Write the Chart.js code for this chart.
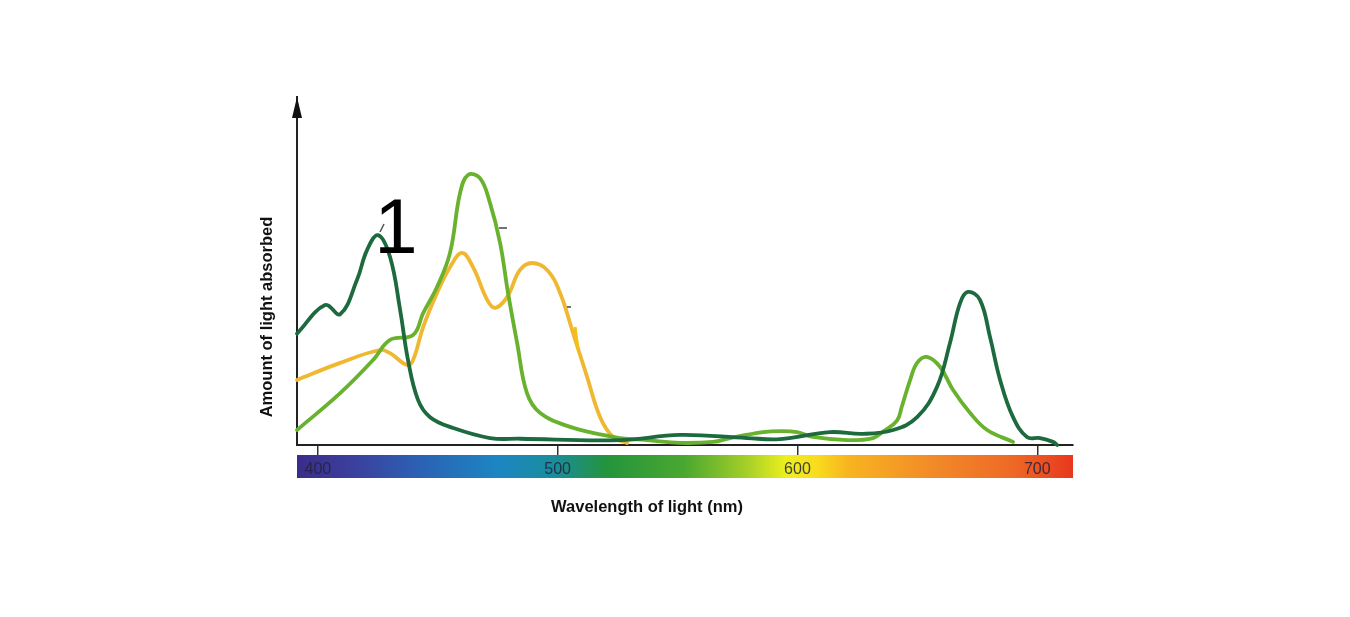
<!DOCTYPE html>
<html>
<head>
<meta charset="utf-8">
<title>Absorption spectra</title>
<script src="https://cdn.jsdelivr.net/npm/chart.js@4"></script>
<style>
  html, body { margin: 0; padding: 0; background: #fff; }
  canvas { display: block; }
</style>
</head>
<body>
<canvas id="spectrumChart" width="1350" height="617"></canvas>
<script>
// Wavelength (nm) and relative absorption (0-100).
var darkWl  = [391.3, 403.0, 409.3, 416.3, 420.5, 425.1, 430.1, 434.3, 437.6, 441.8, 446.8, 456.0, 471.8, 484.3,
               526.0, 551.0, 579.0, 592.7, 613.6, 627.4, 639.9, 649.9, 658.2, 663.6, 667.8, 671.1,
               676.1, 680.3, 684.5, 689.9, 695.7, 701.2, 706.5, 708.3];
var darkAbs = [32.0, 40.2, 37.6, 47.4, 56.0, 60.3, 54.0, 38.8, 24.4, 12.9, 8.0, 5.0, 2.0, 1.8,
               1.4, 2.9, 2.0, 1.7, 3.7, 3.2, 4.3, 8.0, 16.7, 29.3, 40.8, 44.0,
               41.7, 31.0, 18.7, 8.0, 2.3, 2.0, 0.9, 0.0];

var lightWl  = [391.3, 409.3, 423.0, 430.1, 439.7, 443.9, 449.7, 455.1, 459.3, 462.6, 467.6, 471.8, 476.0,
                479.3, 483.1, 487.2, 492.7, 505.2, 518.9, 526.0, 537.3, 551.0, 564.8, 571.9, 585.7,
                592.7, 599.8, 606.5, 620.7, 631.5, 636.0, 641.5, 643.5, 647.0, 649.9, 654.0, 659.5,
                664.9, 672.0, 679.1, 689.9];
var lightAbs = [4.3, 14.9, 24.4, 30.2, 31.6, 37.9, 45.4, 55.2, 72.4, 77.6, 76.7, 69.5, 58.0,
                43.7, 29.3, 14.9, 9.2, 5.2, 2.9, 2.0, 1.4, 0.6, 0.9, 2.0, 3.7,
                4.0, 3.7, 2.3, 1.4, 2.0, 4.0, 7.0, 11.0, 18.7, 23.6, 25.3, 22.4,
                15.8, 9.2, 4.3, 0.9];

var yellowWl  = [391.3, 409.3, 425.9, 430.1, 437.2, 439.7, 443.9, 449.7, 455.1, 460.1, 464.7, 470.6,
                 473.9, 478.9, 484.3, 489.3, 495.6, 501.0, 506.4, 512.3, 517.7, 523.1, 528.9];
var yellowAbs = [18.7, 23.6, 27.3, 26.4, 23.0, 24.4, 33.9, 43.7, 51.1, 55.2, 51.1, 41.7,
                 39.4, 42.5, 50.3, 52.3, 50.3, 43.7, 32.2, 19.5, 8.0, 2.3, 0.6];

var tickValues = [400, 500, 600, 700];
var xTitle = 'Wavelength of light (nm)';
var yTitle = 'Amount of light absorbed';
var markLabel = '1';

var FONT = '"Liberation Sans", Arial, sans-serif';

function toPoints(xs, ys) {
    return xs.map(function(x, i) { return { x: x, y: ys[i] }; });
}

// Extra drawing: spectrum band under the axis, arrow, titles and the "1" label.
var decorPlugin = {
    id: 'decor',
    beforeDraw: function(chart) {
        var ctx = chart.ctx;
        var x = chart.scales.x;
        var top = chart.chartArea.bottom + 10;
        var h = 23;
        var g = ctx.createLinearGradient(x.left, 0, x.right, 0);
        g.addColorStop(0.00, '#3a2c8a');
        g.addColorStop(0.07, '#3b3f9c');
        g.addColorStop(0.16, '#2b62b4');
        g.addColorStop(0.26, '#1c86c2');
        g.addColorStop(0.33, '#198d9c');
        g.addColorStop(0.40, '#24943c');
        g.addColorStop(0.50, '#4aa830');
        g.addColorStop(0.58, '#a6cf28');
        g.addColorStop(0.63, '#ecef1e');
        g.addColorStop(0.67, '#f8dc1e');
        g.addColorStop(0.71, '#f8b420');
        g.addColorStop(0.82, '#f28a28');
        g.addColorStop(0.92, '#ee6a26');
        g.addColorStop(1.00, '#e8381e');
        ctx.save();
        ctx.fillStyle = g;
        ctx.fillRect(x.left, top, x.right - x.left, h);
        ctx.restore();
    },
    afterDraw: function(chart) {
        var ctx = chart.ctx;
        var area = chart.chartArea;
        var xs = chart.scales.x;
        ctx.save();

        // tick labels sit inside the spectrum band
        ctx.fillStyle = 'rgba(35,35,60,0.85)';
        ctx.font = '16px ' + FONT;
        ctx.textAlign = 'center';
        ctx.textBaseline = 'middle';
        tickValues.forEach(function(v) {
            ctx.fillText(String(v), xs.getPixelForValue(v), area.bottom + 25);
        });

        // arrow head on the y axis
        ctx.fillStyle = '#111';
        ctx.beginPath();
        ctx.moveTo(area.left, area.top);
        ctx.lineTo(area.left - 5, area.top + 21);
        ctx.lineTo(area.left + 5, area.top + 21);
        ctx.closePath();
        ctx.fill();

        // axis titles
        ctx.fillStyle = '#111';
        ctx.font = 'bold 16.5px ' + FONT;
        ctx.textAlign = 'center';
        ctx.textBaseline = 'middle';
        ctx.fillText(xTitle, 647, 507);
        ctx.translate(267, 317);
        ctx.rotate(-Math.PI / 2);
        ctx.fillText(yTitle, 0, 0);
        ctx.setTransform(1, 0, 0, 1, 0, 0);

        // big "1" label with its leader line
        ctx.fillStyle = '#000';
        ctx.font = '78px ' + FONT;
        ctx.textAlign = 'center';
        ctx.textBaseline = 'alphabetic';
        ctx.fillText(markLabel, 396, 253);
        ctx.strokeStyle = '#555';
        ctx.lineWidth = 1.5;
        ctx.beginPath();
        ctx.moveTo(380, 232);
        ctx.lineTo(384, 224);
        ctx.stroke();

        // leftover leader stubs
        ctx.strokeStyle = '#444';
        ctx.lineWidth = 1.5;
        ctx.beginPath();
        ctx.moveTo(499, 228);
        ctx.lineTo(507, 228);
        ctx.moveTo(567, 307);
        ctx.lineTo(571, 307);
        ctx.stroke();
        ctx.strokeStyle = '#f5c016';
        ctx.lineWidth = 3;
        ctx.beginPath();
        ctx.moveTo(575, 327);
        ctx.lineTo(578, 349);
        ctx.stroke();
        ctx.restore();
    }
};

function lineSet(label, xs, ys, color) {
    return {
        label: label,
        data: toPoints(xs, ys),
        borderColor: color,
        borderWidth: 3.8,
        pointRadius: 0,
        tension: 0.4,
        borderCapStyle: 'round',
        borderJoinStyle: 'round',
        fill: false
    };
}

var ctx = document.getElementById('spectrumChart').getContext('2d');
var chart = new Chart(ctx, {
    type: 'line',
    data: {
        datasets: [
            lineSet('dark green', darkWl, darkAbs, '#1d6a3e'),
            lineSet('light green', lightWl, lightAbs, '#68b22e'),
            lineSet('yellow', yellowWl, yellowAbs, '#f0b731')
        ]
    },
    options: {
        responsive: false,
        animation: false,
        clip: false,
        layout: { padding: { left: 297, right: 277, top: 97, bottom: 172 } },
        plugins: {
            legend: { display: false },
            tooltip: { enabled: false }
        },
        scales: {
            x: {
                type: 'linear',
                min: 391.3,
                max: 714.9,
                afterFit: function(s) { s.height = 0; },
                afterBuildTicks: function(s) {
                    s.ticks = tickValues.map(function(v) { return { value: v }; });
                },
                border: { display: true, color: '#222', width: 2 },
                grid: { drawOnChartArea: false, drawTicks: true, tickLength: 10, color: '#333', lineWidth: 1.5 },
                ticks: { display: false }
            },
            y: {
                min: 0,
                max: 100,
                afterFit: function(s) { s.width = 0; },
                border: { display: true, color: '#222', width: 2 },
                grid: { drawOnChartArea: false, drawTicks: false },
                ticks: { display: false }
            }
        }
    },
    plugins: [decorPlugin]
});
</script>
</body>
</html>
